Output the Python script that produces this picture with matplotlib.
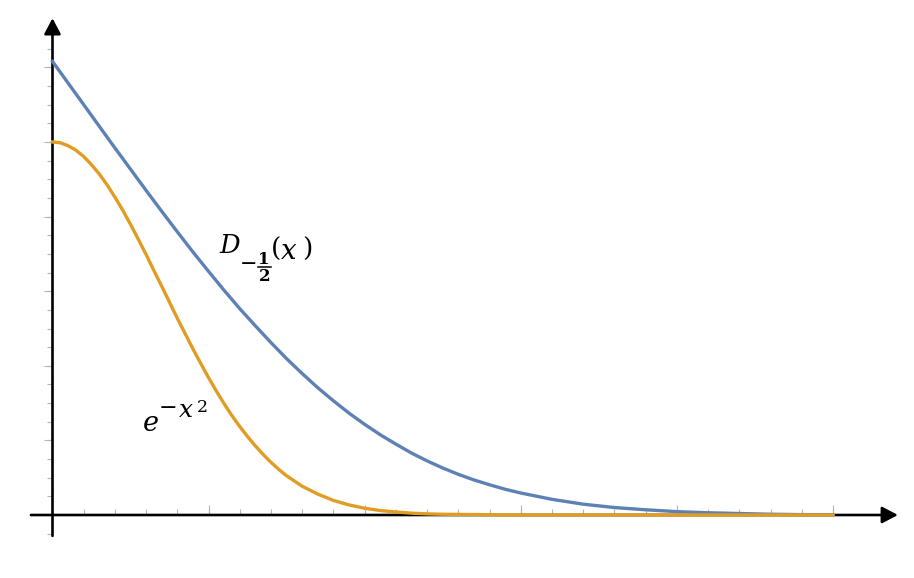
"""Parabolic cylinder function D_{-1/2}(x) against the Gaussian e^{-x^2}."""

import matplotlib
matplotlib.use("Agg")
import matplotlib.pyplot as plt  # noqa: E402
import numpy as np  # noqa: E402

# values
d_x = [0.0, 0.1, 0.2, 0.3, 0.4, 0.5, 0.6, 0.7, 0.8, 0.9, 1.0, 1.1, 1.2, 1.3,
       1.4, 1.5, 1.6, 1.7, 1.8, 1.9, 2.0, 2.1, 2.2, 2.3, 2.4, 2.5, 2.6, 2.7,
       2.8, 2.9, 3.0, 3.2, 3.4, 3.6, 3.8, 4.0, 4.2, 4.4, 4.6, 4.8, 5.0]
d_y = [1.216, 1.158, 1.100, 1.042, 0.984, 0.927, 0.870, 0.814, 0.759, 0.705,
       0.653, 0.602, 0.553, 0.507, 0.462, 0.419, 0.379, 0.341, 0.306, 0.273,
       0.243, 0.215, 0.190, 0.166, 0.145, 0.126, 0.109, 0.094, 0.081, 0.069,
       0.059, 0.042, 0.029, 0.020, 0.014, 0.009, 0.006, 0.004, 0.002, 0.001,
       0.001]

g_x = [0.0, 0.05, 0.1, 0.15, 0.2, 0.25, 0.3, 0.35, 0.4, 0.45, 0.5, 0.55, 0.6,
       0.65, 0.7, 0.75, 0.8, 0.85, 0.9, 0.95, 1.0, 1.05, 1.1, 1.15, 1.2, 1.25,
       1.3, 1.35, 1.4, 1.45, 1.5, 1.6, 1.7, 1.8, 1.9, 2.0, 2.1, 2.2, 2.3, 2.4,
       2.5, 3.0, 4.0, 5.0]
g_y = [1.000, 0.998, 0.990, 0.978, 0.961, 0.939, 0.914, 0.885, 0.852, 0.817,
       0.779, 0.739, 0.698, 0.655, 0.613, 0.570, 0.527, 0.486, 0.445, 0.406,
       0.368, 0.332, 0.298, 0.266, 0.237, 0.210, 0.185, 0.162, 0.141, 0.122,
       0.105, 0.077, 0.056, 0.039, 0.027, 0.018, 0.012, 0.008, 0.005, 0.003,
       0.002, 0.000, 0.000, 0.000]

# label pieces: D_{-1/2}(x) and e^{-x^2}
d_name, d_sign, d_num, d_den = r"$D$", "\u2212", "1", "2"
d_open, d_var, d_close = "(", r"$x$", ")"
g_base, g_sign, g_var, g_pow = r"$e$", "\u2212", r"$x$", "2"

BLUE = "#5e81b5"
ORANGE = "#e19c24"
TICK = "#b5b5b5"
W, H = 914, 578

plt.rcParams["mathtext.fontset"] = "dejavuserif"
plt.rcParams["font.family"] = "DejaVu Serif"

fig = plt.figure(figsize=(W / 100, H / 100), dpi=100)
ax = fig.add_axes([0, 0, 1, 1])
ax.set_xlim(-0.3363, 5.519)
ax.set_ylim(-0.1689, 1.3807)
ax.axis("off")


def put(s, x, y, size, **kw):
    """Place text at pixel (x, y) measured from the top-left corner."""
    kw.setdefault("ha", "left")
    kw.setdefault("va", "baseline")
    fig.text(x / W, 1 - y / H, s, fontsize=size, **kw)


# axes with arrow heads
arrow = dict(arrowstyle="-|>,head_length=0.95,head_width=0.5", color="black",
             lw=1.9, shrinkA=0, shrinkB=0, mutation_scale=10)
ax.annotate("", xy=(5.416, 0), xytext=(-0.138, 0), arrowprops=arrow, zorder=2)
ax.annotate("", xy=(0, 1.332), xytext=(0, -0.056), arrowprops=arrow, zorder=2)

# gray tick marks pointing into the plot
xminor = np.round(np.arange(0.2, 5.01, 0.2), 2)
xmajor = np.arange(1, 6)
ax.plot(xminor, np.zeros_like(xminor), ls="none", marker=2, ms=4.3,
        mew=0.8, color=TICK, zorder=1)
ax.plot(xmajor, np.zeros_like(xmajor), ls="none", marker=2, ms=7.2,
        mew=0.8, color=TICK, zorder=1)
yminor = np.round(np.arange(-0.05, 1.26, 0.05), 2)
yminor = yminor[~np.isclose(yminor, 0)]
ymajor = np.round(np.arange(0.2, 1.21, 0.2), 2)
ax.plot(np.zeros_like(yminor), yminor, ls="none", marker=0, ms=3.6,
        mew=0.8, color=TICK, zorder=1)
ax.plot(np.zeros_like(ymajor), ymajor, ls="none", marker=0, ms=5.8,
        mew=0.8, color=TICK, zorder=1)

ax.plot(d_x, d_y, color=BLUE, lw=2.4, zorder=3, solid_joinstyle="round")
ax.plot(g_x, g_y, color=ORANGE, lw=2.4, zorder=3, solid_joinstyle="round")

# D_{-1/2}(x)
put(d_name, 219, 253, 18.5)
put(d_sign, 249, 264.5, 15, ha="center", va="center")
put(d_num, 264, 259, 12, ha="center", va="center", fontweight="bold")
put(d_den, 264.5, 276.5, 12, ha="center", va="center", fontweight="bold")
fig.add_artist(plt.Line2D([258 / W, 270.5 / W], [1 - 267 / H, 1 - 267 / H],
                          color="black", lw=1.1))
put(d_open, 276.5, 249.5, 19, ha="center", va="center")
put(d_var, 280, 259, 20)
put(d_close, 307, 249.5, 19, ha="center", va="center")

# e^{-x^2}
put(g_base, 142, 431, 19.5)
put(g_sign, 168, 408, 16, ha="center", va="center")
put(g_var, 178, 417, 18)
put(g_pow, 197, 412, 12.5)

fig.savefig("out.png", dpi=100)
plt.close(fig)
